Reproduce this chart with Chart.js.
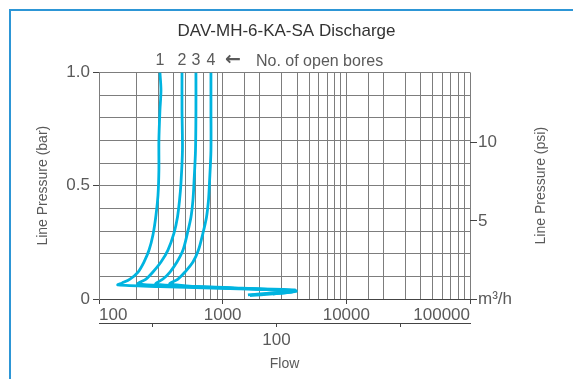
<!DOCTYPE html>
<html>
<head>
<meta charset="utf-8">
<script src="https://cdn.jsdelivr.net/npm/chart.js@4.4.0/dist/chart.umd.min.js"></script>
<style>
  html, body { margin: 0; padding: 0; background: #fff; overflow: hidden; }
  #wrap { position: relative; width: 573px; height: 379px; overflow: hidden; }
  #frame { position: absolute; left: 9px; top: 9px; width: 620px; height: 420px; border: 2px solid #2d96d6; }
  #chart_canvas { position: absolute; left: 0; top: 0; }
</style>
</head>
<body>
<div id="wrap">
  <div id="frame"></div>
  <canvas id="chart_canvas" width="573" height="379"></canvas>
</div>
<script>
const bore1Flow = [311, 317, 311, 305, 305, 300, 289, 273, 254, 231, 207, 178, 153, 142, 311, 1146, 3841, 1601];
const bore1Bar  = [1.0, 0.921, 0.833, 0.70, 0.568, 0.458, 0.37, 0.282, 0.216, 0.163, 0.119, 0.088, 0.07, 0.062, 0.055, 0.046, 0.037, 0.018];
const bore2Flow = [469, 469, 473, 460, 448, 431, 404, 361, 317, 273, 240, 207, 1146, 3701, 1662];
const bore2Bar  = [1.0, 0.833, 0.656, 0.511, 0.436, 0.361, 0.291, 0.216, 0.163, 0.119, 0.088, 0.066, 0.05, 0.033, 0.015];
const bore3Flow = [608, 608, 603, 586, 575, 554, 519, 478, 427, 375, 329, 289, 1146, 3841, 2551];
const bore3Bar  = [1.0, 0.833, 0.656, 0.511, 0.436, 0.361, 0.291, 0.216, 0.163, 0.119, 0.088, 0.066, 0.048, 0.04, 0.025];
const bore4Flow = [804, 804, 804, 782, 768, 740, 693, 637, 575, 496, 435, 375, 1146, 3914, 2551];
const bore4Bar  = [1.0, 0.833, 0.656, 0.511, 0.436, 0.361, 0.291, 0.216, 0.163, 0.119, 0.088, 0.066, 0.048, 0.035, 0.022];

const boreLabels = ['1', '2', '3', '4'];
const flowLabelTicks = [100, 1000, 10000, 100000];
const barLabelTicks = [0, 0.5, 1.0];
const psiTicks = [0, 5, 10];
const flow2Ticks = [10, 100, 1000];
const flow2Labelled = [100];

const lineColor = '#00b4e0';
const gridColor = '#7d7d7d';
const textColor = '#5a5a5a';
const fontFamily = "'Liberation Sans', Arial, sans-serif";
const BAR_TO_PSI = 14.5038;

function toPoints(xs, ys) {
    return xs.map(function(x, i) { return {x: x, y: ys[i]}; });
}

const allFlows = [bore1Flow, bore2Flow, bore3Flow, bore4Flow];
const allBars = [bore1Bar, bore2Bar, bore3Bar, bore4Bar];
const datasets = allFlows.map(function(flows, index) {
    return {
        label: boreLabels[index],
        data: toPoints(flows, allBars[index]),
        showLine: true,
        borderColor: lineColor,
        backgroundColor: lineColor,
        borderWidth: 2.8,
        pointRadius: 0,
        tension: 0.3
    };
});

// bore numbers above the curves + right hand axis title
const overlayText = {
    id: 'overlayText',
    afterDraw(chart) {
        const ctx = chart.ctx;
        const area = chart.chartArea;
        const xs = chart.scales.x;
        ctx.save();
        ctx.fillStyle = textColor;
        ctx.font = '16px ' + fontFamily;
        ctx.textBaseline = 'middle';
        ctx.textAlign = 'center';
        let lastX = 0;
        for (let i = 0; i < allFlows.length; i++) {
            lastX = xs.getPixelForValue(allFlows[i][0]);
            ctx.fillText(boreLabels[i], lastX, area.top - 12);
        }
        ctx.font = 'bold 19px "DejaVu Sans", sans-serif';
        ctx.fillText('\u2190', lastX + 22, area.top - 12);
        ctx.font = '16px ' + fontFamily;
        ctx.textAlign = 'left';
        ctx.fillText('No. of open bores', lastX + 45, area.top - 11);

        ctx.font = '14px ' + fontFamily;
        ctx.textAlign = 'center';
        ctx.translate(area.right + 71, (area.top + area.bottom) / 2);
        ctx.rotate(-Math.PI / 2);
        ctx.fillText('Line Pressure (psi)', 0, 0);
        ctx.restore();
    }
};

const canvas = document.getElementById('chart_canvas');
const chart = new Chart(canvas.getContext('2d'), {
    type: 'scatter',
    data: { datasets: datasets },
    options: {
        responsive: false,
        animation: false,
        devicePixelRatio: 1,
        layout: { padding: 0 },
        plugins: {
            legend: { display: false },
            tooltip: { enabled: false },
            title: {
                display: true,
                text: 'DAV-MH-6-KA-SA Discharge',
                color: '#333',
                font: { family: fontFamily, size: 17, weight: 'normal' },
                padding: { top: 21, bottom: 31 }
            }
        },
        scales: {
            x: {
                type: 'logarithmic',
                position: 'bottom',
                min: 100,
                max: 100000,
                afterFit: function(scale) { scale.height = 24; },
                grid: {
                    color: gridColor,
                    drawTicks: true,
                    tickLength: 5,
                    tickColor: function(c) {
                        return (c.tick && flowLabelTicks.includes(c.tick.value)) ? '#444' : 'rgba(0,0,0,0)';
                    }
                },
                border: { display: true, color: '#444' },
                ticks: {
                    autoSkip: false,
                    maxRotation: 0,
                    align: 'inner',
                    padding: 1,
                    color: textColor,
                    font: { family: fontFamily, size: 17 },
                    callback: function(value) {
                        return flowLabelTicks.includes(value) ? String(value) : '';
                    }
                }
            },
            x2: {
                type: 'logarithmic',
                position: 'bottom',
                weight: 1,
                min: 3.67,
                max: 3670,
                afterFit: function(scale) { scale.height = 56; },
                afterBuildTicks: function(scale) {
                    scale.ticks = flow2Ticks.map(function(v) { return {value: v}; });
                },
                grid: { drawOnChartArea: false, drawTicks: true, tickLength: 4, tickColor: '#444' },
                border: { display: true, color: '#444' },
                ticks: {
                    autoSkip: false,
                    maxRotation: 0,
                    padding: 3,
                    color: textColor,
                    font: { family: fontFamily, size: 17 },
                    callback: function(value) {
                        return flow2Labelled.includes(value) ? String(value) : '';
                    }
                },
                title: {
                    display: true,
                    text: 'Flow',
                    color: textColor,
                    font: { family: fontFamily, size: 14 },
                    padding: { top: 0, bottom: 6 }
                }
            },
            y: {
                type: 'linear',
                position: 'left',
                min: 0,
                max: 1,
                afterFit: function(scale) { scale.width = 99; },
                grid: {
                    color: gridColor,
                    tickLength: 6,
                    tickColor: function(c) {
                        if (!c.tick) return 'rgba(0,0,0,0)';
                        const v = c.tick.value;
                        return barLabelTicks.some(function(b) { return Math.abs(b - v) < 1e-6; }) ? '#444' : 'rgba(0,0,0,0)';
                    }
                },
                border: { display: true, color: gridColor },
                ticks: {
                    stepSize: 0.1,
                    autoSkip: false,
                    padding: 3,
                    color: textColor,
                    font: { family: fontFamily, size: 17 },
                    callback: function(value) {
                        if (Math.abs(value) < 1e-6) return '0';
                        if (Math.abs(value - 0.5) < 1e-6) return '0.5';
                        if (Math.abs(value - 1) < 1e-6) return '1.0';
                        return '';
                    }
                },
                title: {
                    display: true,
                    text: 'Line Pressure (bar)',
                    color: textColor,
                    font: { family: fontFamily, size: 14 },
                    padding: { top: 35, bottom: 0 }
                }
            },
            yPsi: {
                type: 'linear',
                position: 'right',
                min: 0,
                max: BAR_TO_PSI,
                afterFit: function(scale) { scale.width = 103; },
                afterBuildTicks: function(scale) {
                    scale.ticks = psiTicks.map(function(v) { return {value: v}; });
                },
                grid: { drawOnChartArea: false, drawTicks: true, tickLength: 7, tickColor: '#444' },
                border: { display: false },
                ticks: {
                    padding: 1,
                    color: textColor,
                    font: { family: fontFamily, size: 17 },
                    callback: function(value) {
                        return value === 0 ? 'm\u00b3/h' : String(value);
                    }
                }
            }
        }
    },
    plugins: [overlayText]
});
</script>
</body>
</html>
